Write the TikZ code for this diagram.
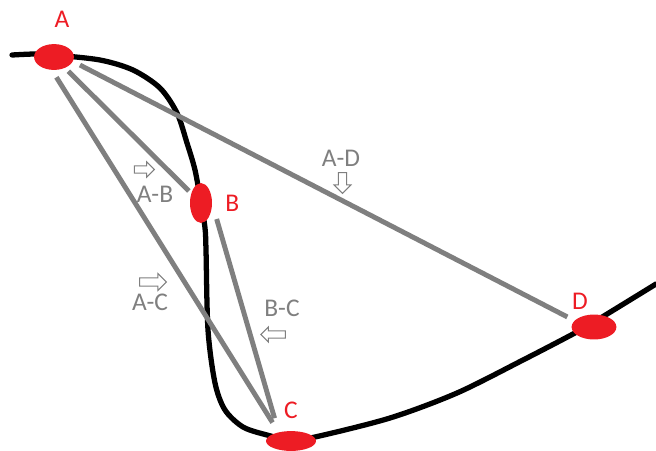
\documentclass[tikz,border=0pt]{standalone}
\usepackage{fontspec}
\setmainfont{Carlito}
\usetikzlibrary{positioning,shapes.geometric,shapes.arrows}

\definecolor{paintred}{RGB}{237,28,36}
\definecolor{paintgray}{RGB}{127,127,127}

\begin{document}
\begin{tikzpicture}[x=0.02cm, y=-0.02cm,
  spot/.style={ellipse, fill=paintred, inner sep=0pt, outer sep=0pt},
  tag/.style={text=paintred, inner sep=0pt, font=\fontsize{14.5}{16}\selectfont},
  link/.style={draw=paintgray, line width=2.8pt},
  note/.style={text=paintgray, inner sep=0pt, font=\fontsize{14.5}{16}\selectfont},
  hint/.style={single arrow, draw=paintgray, line width=0.6pt, fill=white,
    inner xsep=0pt, inner ysep=1.8pt, single arrow head extend=2.2pt}]
  \useasboundingbox (0,0) rectangle (656,450);
  % the track
  \draw[line width=3pt, line cap=round] plot[smooth, tension=0.5] coordinates {
    (12,55) (35,54) (54,55) (100,60) (133,70) (160,88) (177,113) (187,143)
    (195,170) (201,203) (205,228) (206,250) (208,330) (215,383) (225,410)
    (243,427) (267,435) (291,440) (315,437) (390,418) (457,393) (523,360)
    (573,334) (594,322) (656,284)};
  % points on the track
  \node[spot, minimum width=22.7pt, minimum height=14.7pt] (A) at (54,57) {};
  \node[spot, minimum width=12.5pt, minimum height=22.7pt] (B) at (201,203) {};
  \node[spot, minimum width=28.4pt, minimum height=11.3pt] (C) at (291,441) {};
  \node[spot, minimum width=25.5pt, minimum height=14.2pt] (D) at (594,327) {};
  \node[tag, above=9pt of A, xshift=4.5pt] {A};
  \node[tag, right=7.4pt of B] {B};
  \node[tag, above=6.8pt of C] {C};
  \node[tag, above=2.5pt of D, xshift=-8pt] {D};
  % straight links
  \draw[link, shorten <=2.8pt, shorten >=2pt] (A) -- (B);
  \draw[link, shorten <=5pt, shorten >=6.6pt] (A.-100) -- (C.145);
  \draw[link, shorten <=4.6pt, shorten >=4.7pt] (A.-13) -- (D.162);
  \draw[link, shorten <=9.5pt, shorten >=8.4pt] (B.east) -- (C.145);
  % names of the links
  \node[note] (ab) at (155,194) {A-B};
  \node[note] (ac) at (150,302) {A-C};
  \node[note] (bc) at (282,308) {B-C};
  \node[note] (ad) at (341,158) {A-D};
  \node[hint, minimum height=11.3pt] (abhint) at (142.5,169.5) {};
  \node[hint, minimum height=15.2pt, inner ysep=2pt, single arrow head extend=2.5pt] (achint) at (151,282) {};
  \node[hint, minimum height=14pt, shape border rotate=180] (bchint) at (275,334.5) {};
  \node[hint, minimum height=11.8pt, inner xsep=2pt, inner ysep=0pt, single arrow head extend=2.5pt, shape border rotate=270] (adhint) at (342.5,181) {};
\end{tikzpicture}
\end{document}
